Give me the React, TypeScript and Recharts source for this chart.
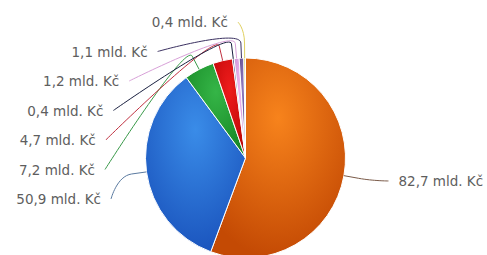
import React from "react";
import { PieChart, Pie, Cell } from "recharts";

// slices in drawing order, clockwise from 12 o'clock
const values = [82.7, 50.9, 7.2, 4.7, 0.4, 1.2, 1.1, 0.4];
const labels = [
  "82,7 mld. Kč",
  "50,9 mld. Kč",
  "7,2 mld. Kč",
  "4,7 mld. Kč",
  "0,4 mld. Kč",
  "1,2 mld. Kč",
  "1,1 mld. Kč",
  "0,4 mld. Kč"
];

const lightColors = ["#f7831c", "#3a8ce8", "#35b547", "#ee1c1c", "#3a4a8a", "#f0b8f0", "#8f78c0", "#f2e67a"];
const darkColors = ["#c44a04", "#1b55be", "#178826", "#bb0606", "#1c2450", "#c58ad0", "#4a3a78", "#cdb93a"];
const lineColors = ["#7a5a48", "#5a7aa0", "#3a9a4a", "#c03040", "#1a2040", "#d8a0d8", "#3a3060", "#e0d060"];

const CX = 245.5;
const CY = 158;
const R = 100;
const LABEL_DIST = 30; // where a label would sit if nothing collided
const LABEL_GAP = 29.5; // min vertical spacing between labels
const TOP = 22; // highest a label may go
const ELLIPSE_A = 141; // horizontal reach of connector ends
const ELLIPSE_B = 136.2;

const data = values.map((value, i) => ({ name: labels[i], value }));

interface LabelPos {
  i: number;
  sx: number;
  sy: number;
  left: boolean;
  naiveY: number;
  y: number;
}

// Highcharts-like label placement: push colliding labels apart, then pull the group back up
function layoutLabels(): LabelPos[] {
  const total = values.reduce((a, b) => a + b, 0);
  let acc = 0;
  const items: LabelPos[] = values.map((v, i) => {
    const mid = ((acc + v / 2) / total) * 360;
    acc += v;
    const rad = (mid * Math.PI) / 180;
    const sx = Math.sin(rad);
    const sy = -Math.cos(rad);
    const naiveY = CY + sy * (R + LABEL_DIST);
    return { i, sx, sy, left: mid > 180, naiveY, y: naiveY };
  });

  [true, false].forEach((side) => {
    const group = items.filter((it) => it.left === side).sort((a, b) => a.naiveY - b.naiveY);
    let prev = -Infinity;
    group.forEach((it) => {
      it.y = Math.max(it.naiveY, prev + LABEL_GAP);
      prev = it.y;
    });
    if (group.length > 1) {
      const disp = group.reduce((s, it) => s + it.y - it.naiveY, 0) / group.length;
      const shift = Math.min(disp, group[0].y - TOP);
      if (shift > 0) group.forEach((it) => (it.y -= shift));
    }
  });
  return items;
}

const positions = layoutLabels();

const renderLabel = (props: any) => {
  const p = positions[props.index];
  if (!p) return null;
  const dy = p.y - CY;
  const off = ELLIPSE_A * Math.sqrt(Math.max(0, 1 - (dy / ELLIPSE_B) ** 2));
  const ax = p.left ? CX - off : CX + off + 4;
  const tx = CX + p.sx * R;
  const ty = CY + p.sy * R;
  const bx = CX + p.sx * (R + 15);
  const by = CY + p.sy * (R + 15);
  const d = `M ${ax} ${p.y} C ${ax} ${p.y} ${2 * bx - tx} ${2 * by - ty} ${bx} ${by} L ${tx} ${ty}`;
  return (
    <g>
      <path d={d} fill="none" stroke={lineColors[p.i]} strokeWidth={1} />
      <text
        x={p.left ? ax - 10 : ax + 10}
        y={p.y}
        textAnchor={p.left ? "end" : "start"}
        dominantBaseline="central"
        fill="#5e5e5e"
        fontSize={13.5}
        fontFamily="DejaVu Sans"
      >
        {labels[p.i]}
      </text>
    </g>
  );
};

export default function App() {
  return (
    <div style={{ position: "absolute", left: 0, top: 0, width: 487, height: 255, background: "#ffffff" }}>
      <PieChart width={487} height={255} margin={{ top: 0, right: 0, bottom: 0, left: 0 }}>
        <defs>
          {values.map((_, i) => (
            <radialGradient key={`g-${i}`} id={`slice-${i}`} cx="0.5" cy="0.3" r="0.7">
              <stop offset="0%" stopColor={lightColors[i]} />
              <stop offset="100%" stopColor={darkColors[i]} />
            </radialGradient>
          ))}
        </defs>
        <Pie
          data={data}
          dataKey="value"
          cx={CX}
          cy={CY}
          outerRadius={R}
          startAngle={90}
          endAngle={-270}
          stroke="#ffffff"
          strokeWidth={1}
          label={renderLabel}
          labelLine={false}
          isAnimationActive={false}
        >
          {data.map((entry, index) => (
            <Cell key={`cell-${index}`} fill={`url(#slice-${index})`} />
          ))}
        </Pie>
      </PieChart>
    </div>
  );
}
